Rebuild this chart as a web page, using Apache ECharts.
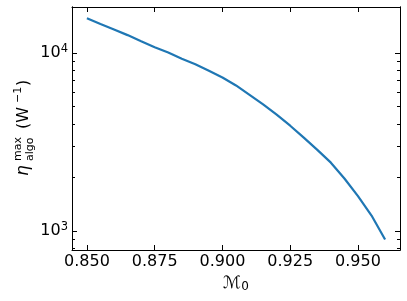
<!DOCTYPE html>
<html>
<head>
<meta charset="utf-8">
<script src="https://cdn.jsdelivr.net/npm/echarts@6/dist/echarts.min.js"></script>
<style>html,body{margin:0;padding:0;background:#fff}#c{width:407px;height:301px}</style>
</head>
<body>
<div id="c"></div>
<script>
// Data
const mach = [0.850,0.855,0.860,0.865,0.870,0.875,0.880,0.885,0.890,0.895,0.900,0.905,0.910,0.915,0.920,0.925,0.930,0.935,0.940,0.945,0.950,0.955,0.960];
const etaMax = [15710,14580,13580,12620,11660,10790,10080,9290,8665,7960,7293,6583,5832,5151,4510,3913,3352,2864,2427,1979,1575,1225,899];
const xTicks = [0.850,0.875,0.900,0.925,0.950];
const yMajorTicks = [1000,10000];
const yMinorTicks = [800,900,2000,3000,4000,5000,6000,7000,8000,9000];
const xRange = [0.8445,0.9655];
const yRange = [785,18150];

const FONT = 'DejaVu Sans';
const chart = echarts.init(document.getElementById('c'), null, {renderer:'canvas'});
const lineCol = '#000';
function xAx(pos, showLabel){
  return {
    type:'value', position:pos, min:xRange[0], max:xRange[1], gridIndex:0,
    axisLine:{show:true, onZero:false, lineStyle:{color:lineCol, width:1}},
    axisTick:{show:true, inside:true, length:5, customValues:xTicks, lineStyle:{color:lineCol,width:1}},
    axisLabel:{show:showLabel, customValues:xTicks, formatter:v=>Number(v).toFixed(3), fontSize:16, fontFamily:FONT, color:'#000', margin:4},
    splitLine:{show:false}
  };
}
function yAx(pos, ticks, len, showLabel){
  return {
    type:'log', logBase:10, position:pos, min:yRange[0], max:yRange[1], gridIndex:0,
    axisLine:{show:true, onZero:false, lineStyle:{color:lineCol, width:1}},
    axisTick:{show:true, inside:true, length:len, customValues:ticks, lineStyle:{color:lineCol,width:1}},
    axisLabel:{show:showLabel, customValues:ticks, margin:4,
      formatter:v=>'{b|10}{s|'+Math.round(Math.log10(v))+'}',
      rich:{b:{fontSize:16,fontFamily:FONT,color:'#000'}, s:{fontSize:11.5,fontFamily:FONT,color:'#000',padding:[0,0,8,0]}}},
    splitLine:{show:false}, minorTick:{show:false}
  };
}
const xa = xAx('bottom', true);
xa.name = '{m|ℳ}{s|0}';
xa.nameLocation = 'middle';
xa.nameGap = 22;
xa.nameTextStyle = {rich:{m:{fontSize:17,fontFamily:FONT,fontStyle:'italic',color:'#000'}, s:{fontSize:12,fontFamily:FONT,color:'#000',padding:[7,0,0,0]}}};

const ylabel = {
  type:'group', x:24, y:178, rotation:Math.PI/2,
  children:[
    {type:'text', x:2, y:0, style:{text:'η', font:'italic 17px "DejaVu Sans"', fill:'#000', verticalAlign:'middle', align:'left'}},
    {type:'text', x:17, y:-6, style:{text:'max', font:'11px "DejaVu Sans"', fill:'#000', verticalAlign:'middle', align:'left'}},
    {type:'text', x:17, y:6, style:{text:'algo', font:'11px "DejaVu Sans"', fill:'#000', verticalAlign:'middle', align:'left'}},
    {type:'text', x:49, y:0, style:{text:'(W', font:'16px "DejaVu Sans"', fill:'#000', verticalAlign:'middle', align:'left'}},
    {type:'text', x:75, y:-6, style:{text:'−1', font:'11px "DejaVu Sans"', fill:'#000', verticalAlign:'middle', align:'left'}},
    {type:'text', x:92, y:0, style:{text:')', font:'16px "DejaVu Sans"', fill:'#000', verticalAlign:'middle', align:'left'}}
  ]
};

chart.setOption({
  animation:false,
  backgroundColor:'#fff',
  grid:{left:72, top:7, right:7, bottom:51, containLabel:false},
  xAxis:[xa, xAx('top', false)],
  yAxis:[yAx('left', yMajorTicks, 5, true), yAx('left', yMinorTicks, 3, false), yAx('right', yMajorTicks, 5, false), yAx('right', yMinorTicks, 3, false)],
  graphic:[ylabel],
  series:[{
    type:'line', xAxisIndex:0, yAxisIndex:0, showSymbol:false, smooth:false,
    data: mach.map((m,i)=>[m, etaMax[i]]),
    lineStyle:{color:'#1f77b4', width:2.2}, itemStyle:{color:'#1f77b4'}
  }]
});
</script>
</body>
</html>
